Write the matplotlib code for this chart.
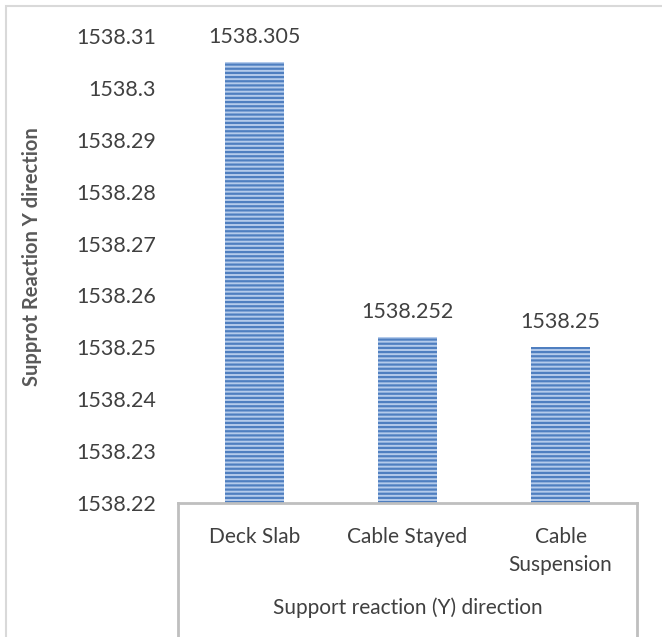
import matplotlib
matplotlib.use("Agg")
import matplotlib.pyplot as plt
from matplotlib.lines import Line2D
from matplotlib.patches import Rectangle

categories = ["Deck Slab", "Cable Stayed", "Cable\nSuspension"]
values = [1538.305, 1538.252, 1538.25]
value_labels = ["1538.305", "1538.252", "1538.25"]
y_ticks = [1538.22, 1538.23, 1538.24, 1538.25, 1538.26, 1538.27, 1538.28, 1538.29, 1538.3, 1538.31]
y_tick_labels = ["1538.22", "1538.23", "1538.24", "1538.25", "1538.26", "1538.27", "1538.28", "1538.29", "1538.3", "1538.31"]
y_label = "Supprot Reaction Y direction"
group_label = "Support reaction (Y) direction"

plt.rcParams["font.family"] = ["Lato", "DejaVu Sans"]
plt.rcParams["hatch.linewidth"] = 1.6

W, H = 662, 637
fig = plt.figure(figsize=(W / 100, H / 100), dpi=100)

# outer chart frame
fig.add_artist(Rectangle((6 / W, -0.01), 1.0, 1 - 6 / H + 0.01, transform=fig.transFigure,
                         fill=False, edgecolor="#d9d9d9", linewidth=1.5))

left, right, top, bottom = 178, 637, 36, 503
ax = fig.add_axes([left / W, 1 - bottom / H, (right - left) / W, (bottom - top) / H])

x = range(len(categories))
bars = ax.bar(x, values, width=0.385, bottom=0, color="#b4cbeb", edgecolor="#4f7fc0",
              linewidth=0, hatch="----")
ax.set_xlim(-0.5, len(categories) - 0.5)
ax.set_ylim(y_ticks[0], y_ticks[-1])
ax.set_yticks(y_ticks)
ax.set_yticklabels(y_tick_labels, fontsize=15.5, color="#404040")
ax.tick_params(axis="y", length=0, pad=16)
ax.set_xticks([])

for s in ["top", "right", "left"]:
    ax.spines[s].set_visible(False)
ax.spines["bottom"].set_color("#bfbfbf")
ax.spines["bottom"].set_linewidth(2)

for xi, v, lab in zip(x, values, value_labels):
    ax.annotate(lab, (xi, v), xytext=(0, 11), textcoords="offset points",
                ha="center", va="bottom", fontsize=15.5, color="#404040")

# category axis box below the plot
ph = bottom - top
depth = (H - bottom) / ph
for xa in (0, 1):
    ax.add_line(Line2D([xa, xa], [0, -depth], transform=ax.transAxes, color="#bfbfbf",
                       linewidth=2, clip_on=False))

for xi, c in zip(x, categories):
    ax.text(xi, -(527 - bottom) / ph, c, transform=ax.get_xaxis_transform(), ha="center",
            va="top", fontsize=15, color="#404040", linespacing=1.5)

ax.text(0.5, -(608 - bottom) / ph, group_label, transform=ax.transAxes,
        ha="center", va="center", fontsize=15, color="#404040")

fig.text(32 / W, 1 - 257 / H, y_label, rotation=90, ha="center", va="center",
         fontsize=14.5, fontweight="bold", color="#595959")

fig.savefig("out.png", dpi=100)
